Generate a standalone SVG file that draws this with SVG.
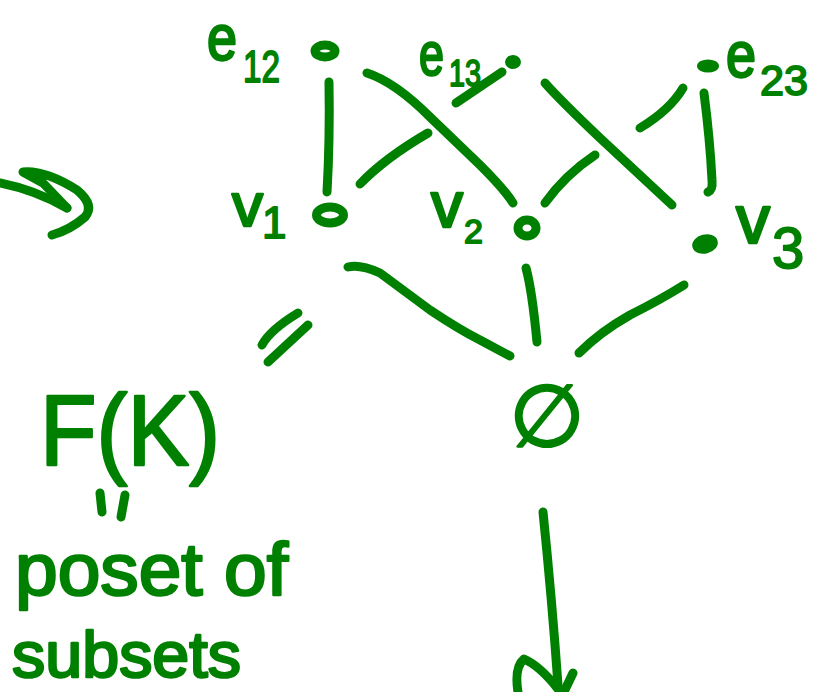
<svg xmlns="http://www.w3.org/2000/svg" width="814" height="692" viewBox="0 0 814 692">
  <style>
    .ink { fill: none; stroke: #008000; stroke-width: 9; stroke-linecap: round; stroke-linejoin: round; }
    .dot { fill: #008000; stroke: #008000; stroke-width: 4; }
    .hand { fill: #008000; stroke: #008000; stroke-linejoin: round; font-family: "Liberation Sans", Arial, sans-serif; }
    .lbl { stroke-width: 2.5; }
    .sub { stroke-width: 1.8; }
  </style>
  <rect width="814" height="692" fill="#ffffff"/>

  <!-- Hasse diagram edges (hand-drawn, with gaps where strokes cross) -->
  <g id="connectors">
    <path class="ink" d="M329,82 Q330,140 327,192"/>
    <path class="ink" d="M367,73 Q395,82 430,117 L480,165 Q505,190 513,203"/>
    <path class="ink" d="M360,184 Q385,158 428,133"/>
    <path class="ink" d="M456,103 L502,72"/>
    <path class="ink" d="M545,83 Q560,100 600,138 L672,205"/>
    <path class="ink" d="M545,203 Q565,175 595,155"/>
    <path class="ink" d="M640,128 Q670,110 683,88"/>
    <path class="ink" d="M704,93 Q710,140 712,180 Q713,190 708,192"/>
    <path class="ink" d="M348,267 Q360,264 380,273 L430,310 Q460,330 480,340 L510,356"/>
    <path class="ink" d="M526,268 Q532,290 537,342"/>
    <path class="ink" d="M684,285 Q660,300 630,315 Q600,332 579,353"/>
    <!-- arrow leaving the empty set -->
    <path class="ink" d="M543,512 Q552,600 558,685"/>
    <path class="ink" d="M519,698 Q513,668 524,659 Q540,666 558,689"/>
    <path class="ink" d="M573,673 L563,694"/>
  </g>

  <g id="e12">
    <ellipse class="ink" cx="325" cy="51" rx="10" ry="6"/>
    <text class="hand lbl" x="207" y="60" font-size="64" textLength="30" lengthAdjust="spacingAndGlyphs">e</text>
    <text class="hand sub" x="243" y="82" font-size="44" textLength="37" lengthAdjust="spacingAndGlyphs">12</text>
  </g>

  <g id="e13">
    <ellipse class="dot" cx="513" cy="62" rx="6" ry="5"/>
    <text class="hand lbl" x="419" y="75" font-size="62" textLength="25" lengthAdjust="spacingAndGlyphs">e</text>
    <text class="hand sub" x="449" y="86" font-size="36" textLength="32" lengthAdjust="spacingAndGlyphs">13</text>
  </g>

  <g id="e23">
    <ellipse class="dot" cx="708" cy="66" rx="9" ry="4.5"/>
    <text class="hand lbl" x="726" y="77" font-size="64" textLength="30" lengthAdjust="spacingAndGlyphs">e</text>
    <text class="hand sub" x="760" y="95" font-size="42" textLength="48" lengthAdjust="spacingAndGlyphs">23</text>
  </g>

  <g id="v1">
    <ellipse class="ink" cx="330" cy="215" rx="13.5" ry="8"/>
    <text class="hand lbl" x="232" y="226" font-size="62">v</text>
    <text class="hand sub" x="262" y="238" font-size="44">1</text>
  </g>

  <g id="v2">
    <ellipse class="ink" cx="527" cy="228" rx="9" ry="8"/>
    <text class="hand lbl" x="431" y="227" font-size="64">v</text>
    <text class="hand sub" x="464" y="243" font-size="34">2</text>
  </g>

  <g id="v3">
    <ellipse class="dot" cx="705" cy="244" rx="11" ry="7.5" transform="rotate(-15 705 244)"/>
    <text class="hand lbl" x="736" y="243" font-size="68">v</text>
    <text class="hand sub" x="772" y="268" font-size="58">3</text>
  </g>

  <g id="empty">
    <text class="hand lbl" x="547" y="446" font-size="86" text-anchor="middle" style="font-family: 'DejaVu Sans', sans-serif">∅</text>
  </g>

  <!-- notes around the diagram -->
  <g id="notes">
    <path class="ink" d="M0,183 Q35,190 67,208"/>
    <path class="ink" d="M67,208 L43,183 L23,172 Q45,170 77,190 Q95,205 85,217 Q70,230 52,235"/>
    <path class="ink" d="M262,345 Q270,330 298,313"/>
    <path class="ink" d="M268,362 L308,325"/>
    <text class="hand lbl" x="40" y="465" font-size="100" textLength="180" lengthAdjust="spacingAndGlyphs">F(K)</text>
    <path class="ink" d="M100,493 L102,512"/>
    <path class="ink" d="M125,495 L121,517"/>
    <text class="hand lbl" x="15" y="595" font-size="74" textLength="273" lengthAdjust="spacingAndGlyphs">poset of</text>
    <text class="hand lbl" x="12" y="677" font-size="64" textLength="229" lengthAdjust="spacingAndGlyphs">subsets</text>
  </g>
</svg>
